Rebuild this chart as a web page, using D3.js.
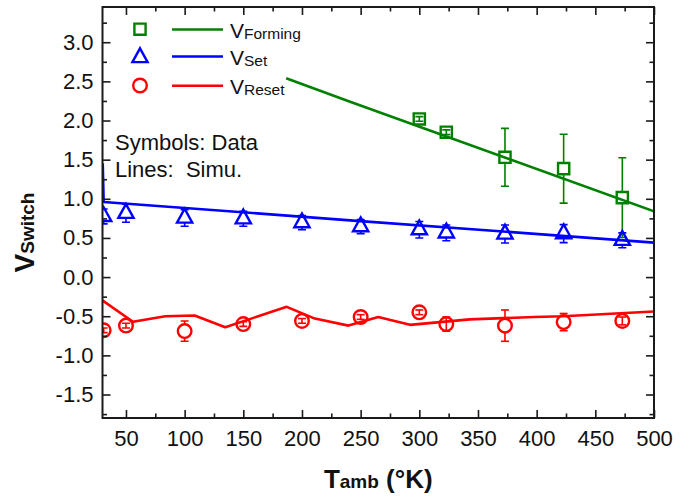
<!DOCTYPE html>
<html>
<head>
<meta charset="utf-8">
<script src="https://cdn.jsdelivr.net/npm/d3@7"></script>
<style>
  html, body { margin: 0; padding: 0; background: #ffffff; }
  svg { display: block; }
  text { font-family: "Liberation Sans", Arial, sans-serif; fill: #111; }
</style>
</head>
<body>
<svg id="chart" width="699" height="498"></svg>
<script>
// ---------------- data ----------------
const temps      = [31, 50, 100, 150, 200, 250, 300, 323, 373, 423, 473];
const setV       = [0.775, 0.815, 0.755, 0.745, 0.695, 0.645, 0.605, 0.565, 0.55, 0.555, 0.47];
const setErr     = [0.095, 0.115, 0.105, 0.095, 0.09, 0.09, 0.105, 0.10, 0.115, 0.115, 0.095];
const resetV     = [-0.68, -0.62, -0.69, -0.60, -0.56, -0.51, -0.45, -0.60, -0.62, -0.575, -0.56];
const resetErr   = [0.03, 0.03, 0.13, 0.03, 0.03, 0.03, 0.03, 0.09, 0.20, 0.11, 0.05];
const formTemps  = [300, 323, 373, 423, 473];
const formV      = [2.02, 1.85, 1.53, 1.385, 1.015];
const formErr    = [0.03, 0.03, 0.37, 0.44, 0.51];

const simFormT   = [186.5, 241, 500];
const simFormV   = [2.54, 2.24, 0.84];
const simSetT    = [30.2, 31, 241, 500];
const simSetV    = [1.45, 0.96, 0.725, 0.44];
const simResetT  = [30.2, 56, 83.5, 108.5, 134.6, 187, 211, 239.6, 265, 292, 343, 398, 422.5, 500];
const simResetV  = [-0.30, -0.57, -0.50, -0.49, -0.64, -0.38, -0.53, -0.62, -0.51, -0.61, -0.54, -0.51, -0.50, -0.44];

const xTickVals   = [50, 100, 150, 200, 250, 300, 350, 400, 450, 500];
const xTickLabels = ["50", "100", "150", "200", "250", "300", "350", "400", "450", "500"];
const xMinorVals  = [75, 125, 175, 225, 275, 325, 375, 425, 475];
const yTickVals   = [-1.5, -1.0, -0.5, 0.0, 0.5, 1.0, 1.5, 2.0, 2.5, 3.0];
const yTickLabels = ["-1.5", "-1.0", "-0.5", "0.0", "0.5", "1.0", "1.5", "2.0", "2.5", "3.0"];
const yMinorVals  = [-1.75, -1.25, -0.75, -0.25, 0.25, 0.75, 1.25, 1.75, 2.25, 2.75, 3.25];

const legendNames = ["Forming", "Set", "Reset"];

// ---------------- layout ----------------
const L = 102.5, R = 654, T = 7, B = 418;
const GREEN = "#008000", BLUE = "#0000ff", RED = "#ff0000";

const svg = d3.select("#chart");
const x = d3.scaleLinear().domain([30, 500]).range([L, R]);
const y = d3.scaleLinear().domain([-1.8, 3.45]).range([B, T]);

svg.append("defs").append("clipPath").attr("id", "plotclip")
  .append("rect").attr("x", L).attr("y", T).attr("width", R - L).attr("height", B - T);

const plot = svg.append("g").attr("clip-path", "url(#plotclip)");

// ---------------- simulation lines ----------------
const line = d3.line().x(d => x(d[0])).y(d => y(d[1]));
function simLine(ts, vs, color) {
  plot.append("path")
    .attr("d", line(ts.map((t, i) => [t, vs[i]])))
    .attr("fill", "none").attr("stroke", color).attr("stroke-width", 2.6)
    .attr("stroke-linejoin", "round");
}
simLine(simFormT, simFormV, GREEN);
simLine(simSetT, simSetV, BLUE);
simLine(simResetT, simResetV, RED);

// ---------------- markers ----------------
// extents above (up) and below (down) the data point, in px
const markerExt = { square: [5.6, 5.6], triangle: [9.2, 4.6], circle: [6.8, 6.8] };
function markerPath(shape, cx, cy) {
  if (shape === "square") {
    const h = 5.6;
    return `M${cx - h},${cy - h}H${cx + h}V${cy + h}H${cx - h}Z`;
  } else if (shape === "triangle") {
    const w = 7.6, up = 9.2, dn = 4.6;
    return `M${cx},${cy - up}L${cx + w},${cy + dn}L${cx - w},${cy + dn}Z`;
  } else {
    const r = 6.8;
    return `M${cx + r},${cy}A${r},${r} 0 1,1 ${cx - r},${cy}A${r},${r} 0 1,1 ${cx + r},${cy}Z`;
  }
}

function dataSeries(ts, vs, es, color, shape) {
  const g = plot.append("g");
  const [up, dn] = markerExt[shape];
  ts.forEach((t, i) => {
    const cx = x(t), cy = y(vs[i]);
    const yt = y(vs[i] + es[i]), yb = y(vs[i] - es[i]);
    const eg = g.append("g").attr("stroke", color).attr("stroke-width", 1.6).attr("fill", "none");
    const bigTop = cy - yt > up + 1, bigBot = yb - cy > dn + 1;
    if (bigTop) eg.append("line").attr("x1", cx).attr("x2", cx).attr("y1", yt).attr("y2", cy - up);
    if (bigBot) eg.append("line").attr("x1", cx).attr("x2", cx).attr("y1", cy + dn).attr("y2", yb);
    if (!bigTop && !bigBot) eg.append("line").attr("x1", cx).attr("x2", cx).attr("y1", yt).attr("y2", yb);
    eg.append("line").attr("x1", cx - 4).attr("x2", cx + 4).attr("y1", yt).attr("y2", yt);
    eg.append("line").attr("x1", cx - 4).attr("x2", cx + 4).attr("y1", yb).attr("y2", yb);
    g.append("path").attr("d", markerPath(shape, cx, cy))
      .attr("fill", "none").attr("stroke", color).attr("stroke-width", 2.4);
  });
}
dataSeries(formTemps, formV, formErr, GREEN, "square");
dataSeries(temps, setV, setErr, BLUE, "triangle");
dataSeries(temps, resetV, resetErr, RED, "circle");

// ---------------- axes ----------------
const axisColor = "#1a1a1a";
function styleAxis(g) {
  g.select(".domain").remove();
  g.selectAll(".tick line").attr("stroke", axisColor).attr("stroke-width", 1.6);
  g.selectAll(".tick text").attr("fill", "#111").style("font-size", "22px")
    .style("font-family", '"Liberation Sans", Arial, sans-serif');
}
const xFmt = v => xTickLabels[xTickVals.indexOf(v)];
const yFmt = v => yTickLabels[yTickVals.findIndex(t => Math.abs(t - v) < 1e-9)];

svg.append("g").attr("transform", `translate(0,${B})`)
  .call(d3.axisBottom(x).tickValues(xTickVals).tickFormat(xFmt).tickSize(-8).tickPadding(12))
  .call(styleAxis);
svg.append("g").attr("transform", `translate(0,${B})`)
  .call(d3.axisBottom(x).tickValues(xMinorVals).tickFormat("").tickSize(-4.5)).call(styleAxis);
svg.append("g").attr("transform", `translate(0,${T})`)
  .call(d3.axisTop(x).tickValues(xTickVals).tickFormat("").tickSize(-8)).call(styleAxis);
svg.append("g").attr("transform", `translate(0,${T})`)
  .call(d3.axisTop(x).tickValues(xMinorVals).tickFormat("").tickSize(-4.5)).call(styleAxis);

svg.append("g").attr("transform", `translate(${L},0)`)
  .call(d3.axisLeft(y).tickValues(yTickVals).tickFormat(yFmt).tickSize(-8).tickPadding(9))
  .call(styleAxis);
svg.append("g").attr("transform", `translate(${L},0)`)
  .call(d3.axisLeft(y).tickValues(yMinorVals).tickFormat("").tickSize(-4.5)).call(styleAxis);
svg.append("g").attr("transform", `translate(${R},0)`)
  .call(d3.axisRight(y).tickValues(yTickVals).tickFormat("").tickSize(-8)).call(styleAxis);
svg.append("g").attr("transform", `translate(${R},0)`)
  .call(d3.axisRight(y).tickValues(yMinorVals).tickFormat("").tickSize(-4.5)).call(styleAxis);

// frame
svg.append("rect").attr("x", L).attr("y", T).attr("width", R - L).attr("height", B - T)
  .attr("fill", "none").attr("stroke", axisColor).attr("stroke-width", 2);

// ---------------- axis titles ----------------
const xt = svg.append("text").attr("x", (L + R) / 2).attr("y", 488)
  .attr("text-anchor", "middle").style("font-weight", "bold");
xt.append("tspan").style("font-size", "26px").text("T");
xt.append("tspan").style("font-size", "19px").text("amb");
xt.append("tspan").style("font-size", "26px").attr("xml:space", "preserve").text(" (°K)");

const yt = svg.append("text").attr("transform", "translate(33.5,232.5) rotate(-90)")
  .attr("text-anchor", "middle").style("font-weight", "bold");
yt.append("tspan").style("font-size", "28px").text("V");
yt.append("tspan").style("font-size", "19px").text("Switch");

// ---------------- legend ----------------
const legColors = [GREEN, BLUE, RED];
const legShapes = ["square", "triangle", "circle"];
const legY = [29.5, 56.5, 85.8];
const legMarkY = [29.2, 57.5, 85.5];
legendNames.forEach((name, i) => {
  svg.append("path").attr("d", markerPath(legShapes[i], 140, legMarkY[i]))
    .attr("fill", "none").attr("stroke", legColors[i]).attr("stroke-width", 2.4);
  svg.append("line").attr("x1", 172).attr("x2", 223).attr("y1", legY[i]).attr("y2", legY[i])
    .attr("stroke", legColors[i]).attr("stroke-width", 2.6);
  const t = svg.append("text").attr("x", 230).attr("y", legY[i] + 8.3);
  t.append("tspan").style("font-size", "21px").text("V");
  t.append("tspan").style("font-size", "15.5px").attr("dy", 1).text(name);
});

// ---------------- annotation ----------------
svg.append("text").attr("x", 115).attr("y", 150).style("font-size", "22px").text("Symbols: Data");
svg.append("text").attr("x", 115).attr("y", 176.7).style("font-size", "22px")
  .attr("xml:space", "preserve").style("white-space", "pre").text("Lines:  Simu.");
</script>
</body>
</html>
